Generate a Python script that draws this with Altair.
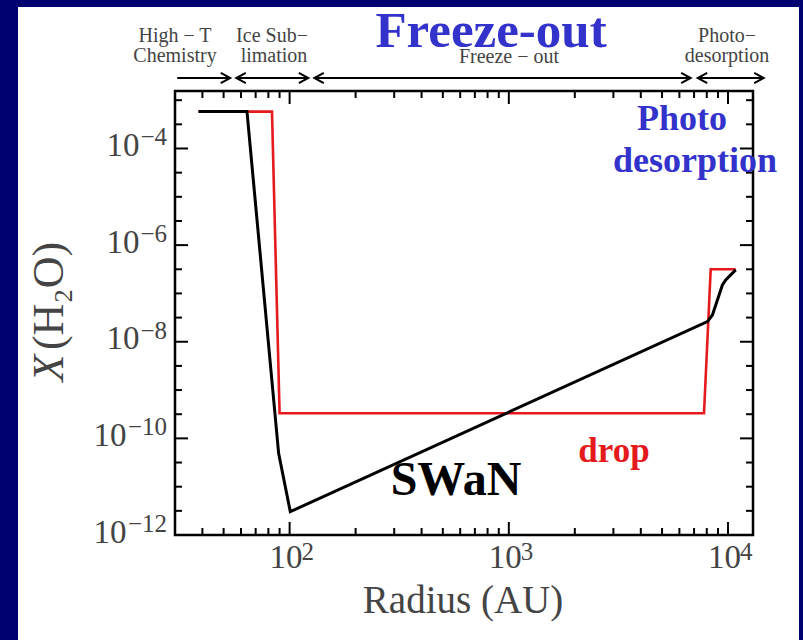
import altair as alt
import pandas as pd

# ---------------- data ----------------
swan_r = [38.4, 63.9, 89.1, 100.7, 8054, 8489, 8946, 9428, 9760, 10287, 10844]
swan_x = [5.8e-4, 5.8e-4, 4.91e-11, 3.04e-12, 2.61e-8, 3.59e-8, 7.33e-8, 1.50e-7, 1.91e-7, 2.42e-7, 3.07e-7]

drop_r = [38.4, 83.1, 90.0, 7770, 8337, 10844]
drop_x = [5.8e-4, 5.8e-4, 3.31e-10, 3.31e-10, 3.17e-7, 3.17e-7]

x_major = [100, 1000, 10000]
x_major_exp = ["2", "3", "4"]
x_minor = [40, 50, 60, 70, 80, 90, 200, 300, 400, 500, 600, 700, 800, 900,
           2000, 3000, 4000, 5000, 6000, 7000, 8000, 9000]
y_major_exp = [-12, -10, -8, -6, -4]
y_major_exp_txt = ["−12", "−10", "−8", "−6", "−4"]
y_minor_exp = [-11.5, -11, -10.5, -9.5, -9, -8.5, -7.5, -7, -6.5, -5.5, -5, -4.5, -3.5, -3]

# region arrows (radius limits of each zone)
arrow_start = [30.7, 57.1, 129.6, 7272]
arrow_end = [53.6, 121.7, 6755, 14550]
arrow_left_head = [False, True, True, True]

W, H = 578, 444
SERIF = "Liberation Serif"
GRAY = "#444444"
NAVY = "#000070"
BLUE = "#3333cc"
RED = "#e41a1c"
LBL = 33      # tick label base size
EXP = 25      # exponent size

xscale = alt.Scale(type="log", domain=[30, 13000], nice=False)
yscale = alt.Scale(type="log", domain=[1e-12, 10 ** -2.81], nice=False)


def build(conditional):
    x_axis = alt.Axis(values=x_major, labelExpr="'10'", ticks=False,
                      domain=False, grid=False, labelFont=SERIF, labelFontSize=LBL,
                      labelColor=GRAY, labelPadding=6, labelOffset=-4, labelFlush=False,
                      title="Radius (AU)", titleFont=SERIF, titleFontSize=39,
                      titleFontWeight="normal", titleColor=GRAY, titleX=287.5,
                      titleY=77, titleBaseline="alphabetic", titleAlign="center",
                      zindex=1)
    if conditional:
        pad = {"condition": {"test": "datum.value < 1e-9", "value": 49}, "value": 36}
    else:
        pad = 42
    y_axis = alt.Axis(values=[10.0 ** e for e in y_major_exp], labelExpr="'10'",
                      ticks=False, domain=False, grid=False, labelFont=SERIF,
                      labelFontSize=LBL, labelColor=GRAY, labelPadding=pad,
                      labelBaseline="middle", labelOffset=-3,
                      labelFlush=False, title="", zindex=1)

    def X(field):
        return alt.X(field, scale=xscale, axis=x_axis)

    def Y(field):
        return alt.Y(field, scale=yscale, axis=y_axis)

    drop_df = pd.DataFrame({"r": drop_r, "X": drop_x, "o": list(range(len(drop_r)))})
    swan_df = pd.DataFrame({"r": swan_r, "X": swan_x, "o": list(range(len(swan_r)))})

    red_line = alt.Chart(drop_df).mark_line(color=RED, strokeWidth=2.6).encode(
        x=X("r:Q"), y=Y("X:Q"), order="o:Q")
    black_line = alt.Chart(swan_df).mark_line(color="black", strokeWidth=3).encode(
        x=X("r:Q"), y=Y("X:Q"), order="o:Q")

    dummy = pd.DataFrame({"a": [0]})

    def xticks(vals, length):
        df = pd.DataFrame({"r": vals})
        bottom = alt.Chart(df).mark_rule(color="black", strokeWidth=2).encode(
            x=X("r:Q"), y=alt.value(H), y2=alt.value(H - length))
        top = alt.Chart(df).mark_rule(color="black", strokeWidth=2).encode(
            x=X("r:Q"), y=alt.value(0), y2=alt.value(length))
        return [bottom, top]

    def yticks(exps, length):
        df = pd.DataFrame({"X": [10.0 ** e for e in exps]})
        left = alt.Chart(df).mark_rule(color="black", strokeWidth=2).encode(
            y=Y("X:Q"), x=alt.value(0), x2=alt.value(length))
        right = alt.Chart(df).mark_rule(color="black", strokeWidth=2).encode(
            y=Y("X:Q"), x=alt.value(W), x2=alt.value(W - length))
        return [left, right]

    tick_layers = (xticks(x_major, 13) + xticks(x_minor, 7)
                   + yticks(y_major_exp, 13) + yticks(y_minor_exp, 7))

    # exponents of the tick labels (superscripts)
    xexp_df = pd.DataFrame({"r": x_major, "t": x_major_exp})
    x_exps = alt.Chart(xexp_df).mark_text(
        font=SERIF, fontSize=EXP, color=GRAY, align="left", baseline="alphabetic",
        dx=12).encode(x=X("r:Q"), y=alt.value(H + 25), text="t:N")
    yexp_df = pd.DataFrame({"X": [10.0 ** e for e in y_major_exp], "t": y_major_exp_txt})
    y_exps = alt.Chart(yexp_df).mark_text(
        font=SERIF, fontSize=EXP, color=GRAY, align="right", baseline="alphabetic",
        dy=-3).encode(y=Y("X:Q"), x=alt.value(-8), text="t:N")

    # arrows above the plot
    arr_df = pd.DataFrame({"r": arrow_start, "e": arrow_end, "lh": arrow_left_head})
    ARROW_Y = -13
    shafts = alt.Chart(arr_df).mark_rule(color="black", strokeWidth=2).encode(
        x=X("r:Q"), x2="e:Q", y=alt.value(ARROW_Y))
    right_heads = alt.Chart(arr_df).transform_calculate(rr="datum.e").mark_point(
        shape="M-1,-0.55L0,0L-1,0.55", filled=False, stroke="black", strokeWidth=2,
        size=361, opacity=1).encode(
        x=X("rr:Q"), y=alt.value(ARROW_Y))
    left_heads = alt.Chart(arr_df).transform_filter("datum.lh").mark_point(
        shape="M1,-0.55L0,0L1,0.55", filled=False, stroke="black", strokeWidth=2,
        size=361, opacity=1).encode(
        x=X("r:Q"), y=alt.value(ARROW_Y))

    def text(t, x, y, size, color, bold=False, italic=False, align="center",
             baseline="alphabetic", angle=0):
        kw = dict(text=t, font=SERIF, fontSize=size, color=color, align=align,
                  baseline=baseline, fontWeight="bold" if bold else "normal")
        if italic:
            kw["fontStyle"] = "italic"
        if angle:
            kw["angle"] = angle
        return alt.Chart(dummy).mark_text(**kw).encode(x=alt.value(x), y=alt.value(y))

    texts = [
        text("High − T", 0, -49, 20, GRAY),
        text("Chemistry", 0, -29, 20, GRAY),
        text("Ice Sub−", 97, -49, 20, GRAY),
        text("limation", 99, -29, 20, GRAY),
        text("Freeze − out", 334, -28, 20, GRAY),
        text("Photo−", 552, -49, 20, GRAY),
        text("desorption", 552, -29, 20, GRAY),
        text("Freeze-out", 316, -44, 51, BLUE, bold=True),
        text("Photo", 507, 39, 36, BLUE, bold=True),
        text("desorption", 520, 81, 36, BLUE, bold=True),
        text("SWaN", 281, 404, 48, "black", bold=True),
        text("drop", 439, 371, 35, RED, bold=True),
        text("X", -125, 277, 44, GRAY, italic=True, baseline="middle", angle=270),
        text("(H₂O)", -125, 205, 44, GRAY, baseline="middle", angle=270),
    ]

    # navy frame strips around the white panel
    navy = [
        alt.Chart(dummy).mark_rect(color=NAVY).encode(
            x=alt.value(-175), x2=alt.value(-157), y=alt.value(-91), y2=alt.value(549)),
        alt.Chart(dummy).mark_rect(color=NAVY).encode(
            x=alt.value(-175), x2=alt.value(628), y=alt.value(-91), y2=alt.value(-84)),
        alt.Chart(dummy).mark_rect(color=NAVY).encode(
            x=alt.value(624), x2=alt.value(628), y=alt.value(-91), y2=alt.value(549)),
    ]

    return alt.layer(
        red_line, black_line, *tick_layers, x_exps, y_exps, shafts, right_heads,
        left_heads, *texts, *navy
    ).properties(
        width=W, height=H,
        padding={"left": 175, "top": 91, "right": 50, "bottom": 105},
        autosize=alt.AutoSizeParams(type="none"),
        background="white",
    ).configure_view(stroke="black", strokeWidth=2.5)


try:
    chart = build(True)
    chart.to_dict()
except Exception:
    chart = build(False)

chart.save("out.html", embed_options={"renderer": "svg", "actions": False})
